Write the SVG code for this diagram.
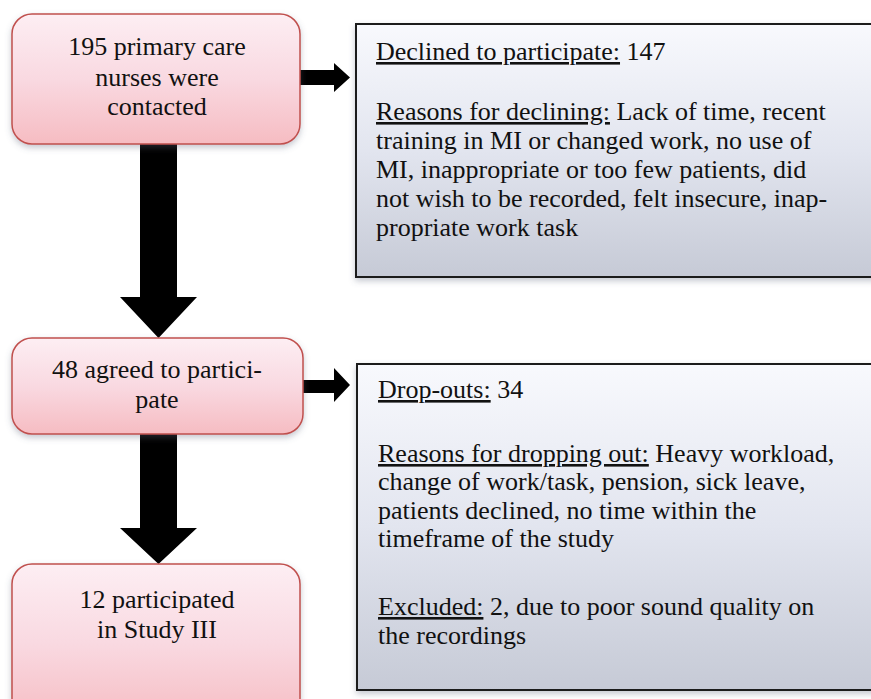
<svg xmlns="http://www.w3.org/2000/svg" width="871" height="699" viewBox="0 0 871 699">
<defs>
<linearGradient id="pink" x1="0" y1="0" x2="0" y2="1">
<stop offset="0" stop-color="#fdeef3"/>
<stop offset="0.5" stop-color="#f9d9e1"/>
<stop offset="1" stop-color="#f6bcc2"/>
</linearGradient>
<linearGradient id="gray" x1="0" y1="0" x2="0" y2="1">
<stop offset="0" stop-color="#f8f9fd"/>
<stop offset="0.5" stop-color="#e2e5ef"/>
<stop offset="1" stop-color="#c6cad6"/>
</linearGradient>
<filter id="sh" x="-10%" y="-10%" width="120%" height="130%">
<feDropShadow dx="0" dy="3" stdDeviation="3" flood-color="#5a6478" flood-opacity="0.35"/>
</filter>
</defs>
<style>
.pbox{fill:url(#pink);stroke:#c0504d;stroke-width:1.5;filter:url(#sh)}
.gbox{fill:url(#gray);stroke:#1a1a1a;stroke-width:2;filter:url(#sh)}
text{font-size:26px;fill:#111}
.c{text-anchor:middle}
.u{text-decoration:underline}
.arr{fill:#000}
</style>
<rect width="871" height="699" fill="#fff"/>
<g id="connectors">
<path class="arr" d="M140,144 H177 V297 H197 L158.5,338 L120,297 H140 Z"/>
<path class="arr" d="M140,434 H177 V528 H197 L158.5,564 L120,528 H140 Z"/>
<path class="arr" d="M300,70 H334 V63 L350,77.5 L334,92 V85 H300 Z"/>
<path class="arr" d="M303,380 H334 V368 L350,385 L334,402 V393 H303 Z"/>
</g>
<g font-family="'Liberation Serif', 'DejaVu Serif', 'Times New Roman', serif">
<g id="n1">
<rect class="pbox" x="12" y="14" width="288" height="130" rx="20"/>
<text class="c" x="157" y="55">195 primary care</text>
<text class="c" x="157" y="86">nurses were</text>
<text class="c" x="157" y="115">contacted</text>
</g>
<g id="n2">
<rect class="gbox" x="356" y="24" width="530" height="253"/>
<text x="376" y="60"><tspan class="u">Declined to participate:</tspan> 147</text>
<text x="376" y="120"><tspan class="u">Reasons for declining:</tspan> Lack of time, recent</text>
<text x="376" y="149">training in MI or changed work, no use of</text>
<text x="376" y="178">MI, inappropriate or too few patients, did</text>
<text x="376" y="207">not wish to be recorded, felt insecure, inap-</text>
<text x="376" y="236">propriate work task</text>
</g>
<g id="n3">
<rect class="pbox" x="12" y="338" width="291" height="96" rx="20"/>
<text class="c" x="157" y="378">48 agreed to partici-</text>
<text class="c" x="157" y="408">pate</text>
</g>
<g id="n4">
<rect class="gbox" x="357" y="364" width="530" height="326"/>
<text x="378" y="398"><tspan class="u">Drop-outs:</tspan> 34</text>
<text x="378" y="462"><tspan class="u">Reasons for dropping out:</tspan> Heavy workload,</text>
<text x="378" y="490">change of work/task, pension, sick leave,</text>
<text x="378" y="519">patients declined, no time within the</text>
<text x="378" y="547">timeframe of the study</text>
<text x="378" y="615"><tspan class="u">Excluded:</tspan> 2, due to poor sound quality on</text>
<text x="378" y="644">the recordings</text>
</g>
<g id="n5">
<rect class="pbox" x="12" y="564" width="288" height="160" rx="20"/>
<text class="c" x="157" y="608">12 participated</text>
<text class="c" x="157" y="638">in Study III</text>
</g>
</g>
</svg>
